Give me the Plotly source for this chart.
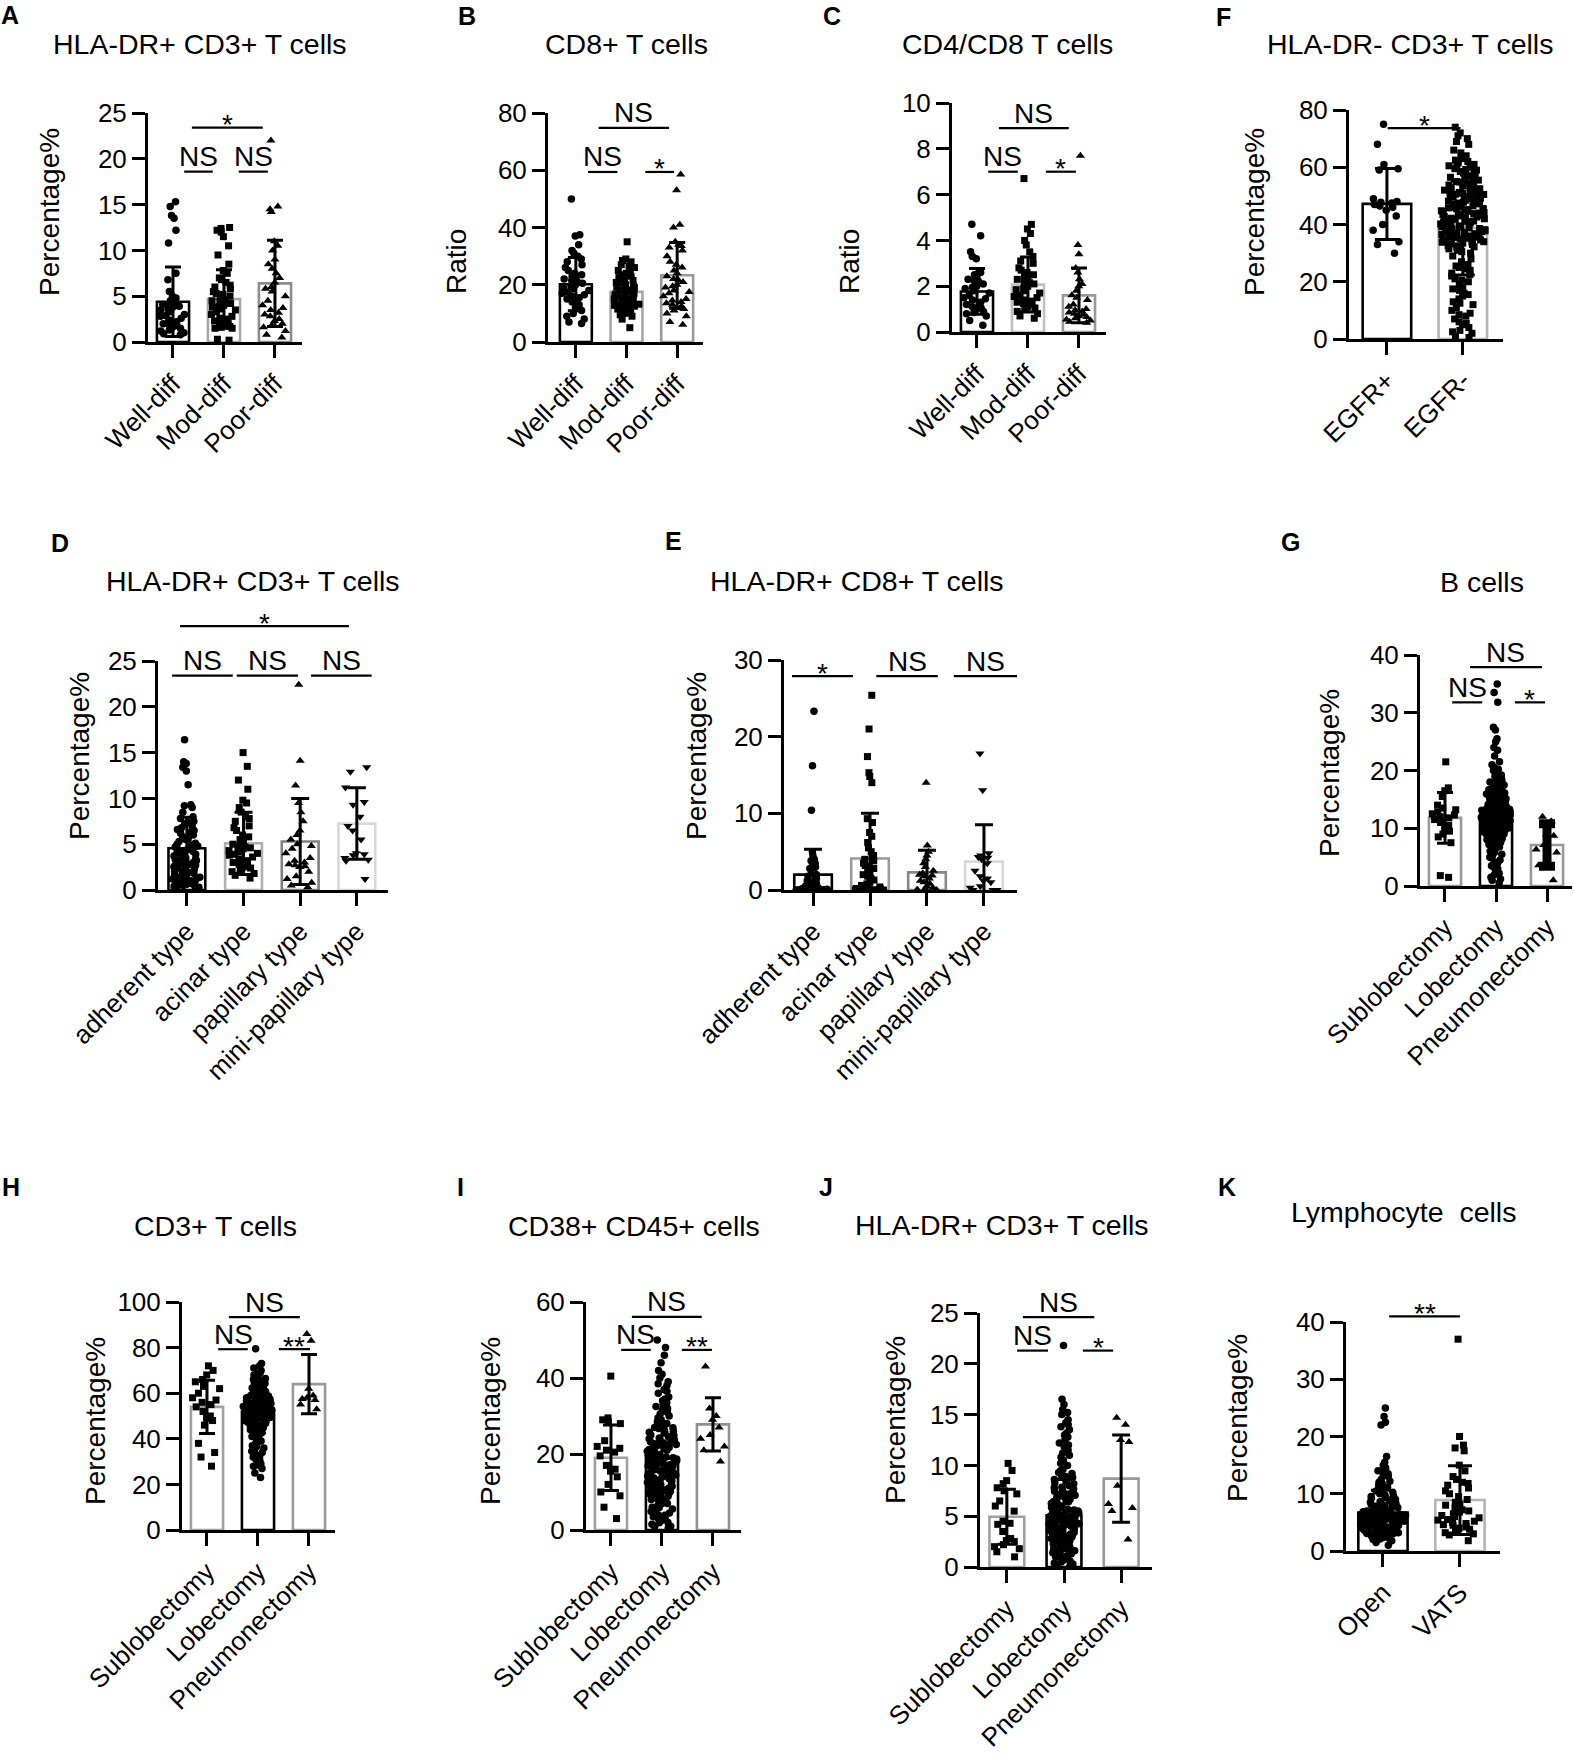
import plotly.graph_objects as go

W, H = 1574, 1758
FONT = "Liberation Sans, Arial, Helvetica, sans-serif"

# ---------------- data ----------------
DIFF_CATS = ["Well-diff", "Mod-diff", "Poor-diff"]
TYPE_CATS = ["adherent type", "acinar type", "papillary type", "mini-papillary type"]
SURG_CATS = ["Sublobectomy", "Lobectomy", "Pneumonectomy"]
EGFR_CATS = ["EGFR+", "EGFR-"]
APPR_CATS = ["Open", "VATS"]

# A  HLA-DR+ CD3+ T cells by differentiation
A_mean = [4.4, 4.7, 6.4]
A_sd = [3.8, 3.2, 4.7]
A_well = [15.3, 14.8, 13.8, 13.5, 12.2, 10.8, 7.5, 6.8, 5.5, 5.0, 4.8, 4.5, 4.2, 4.0, 4.0, 3.8, 3.5,
          3.3, 3.0, 2.8, 2.6, 2.4, 2.2, 2.0, 1.8, 1.6, 1.5, 1.3, 1.2, 1.0, 0.9, 0.8, 3.9, 4.1, 3.6, 2.9, 1.9]
A_mod = [12.5, 12.4, 12.2, 12.0, 11.5, 10.5, 9.5, 8.5, 7.8, 7.5, 7.0, 6.5, 6.2, 6.0, 5.8, 5.5, 5.2, 5.0,
         4.8, 4.6, 4.5, 4.3, 4.2, 4.0, 3.8, 3.6, 3.5, 3.3, 3.0, 2.8, 2.6, 2.5, 2.2, 2.0, 1.8, 1.7, 1.6,
         1.5, 1.5, 0.3, 0.2, 4.4, 5.3, 3.9, 6.8, 2.3]
A_poor = [22.0, 14.8, 14.5, 14.2, 11.0, 10.5, 10.0, 9.0, 8.5, 8.0, 7.5, 7.0, 6.5, 6.0, 5.5, 5.0, 4.5,
          4.0, 3.5, 3.2, 3.0, 2.8, 2.5, 2.0, 1.8, 1.6, 1.2, 0.8, 0.5, 2.3, 3.7, 5.8]

# B  CD8+ T cells
B_mean = [20.2, 17.5, 23.3]
B_sd = [9.3, 5.5, 11.5]
B_well = [50, 37.5, 37, 34, 32, 31, 30, 29, 28, 27, 26, 25, 24, 23, 22.5, 22, 21, 20.5, 20, 19.5, 19,
          18, 17.5, 17, 16, 15.5, 15, 14, 13, 12, 11, 10, 9, 8, 7, 6.5, 21.5, 18.5, 16.5, 23.5]
B_mod = [35, 29, 28.5, 28, 27, 26.5, 26, 25, 24.5, 24, 23.5, 23, 22, 21.5, 21, 20.5, 20, 19.5, 19,
         18.5, 18, 17.5, 17, 16.5, 16, 15.5, 15, 15, 14.5, 14, 14, 13.5, 13, 12.5, 12, 11.5, 11, 10.5,
         10, 9.5, 9, 8, 5, 14.8, 15.2, 16.2, 13.2, 19.2, 22.5, 12.8, 13.8, 14.2, 15.8, 16.8, 17.8,
         18.2, 20.8, 11.2, 12.2, 10.2]
B_poor = [58.5, 53, 41, 40, 35, 34, 33.5, 33, 32, 30, 28, 27, 26, 25, 24, 23, 22, 21, 20, 19.5, 19,
          18, 17, 16, 15, 14.5, 14, 13.5, 13, 12.5, 12, 11.5, 11, 10, 9, 7, 6, 21.5, 17.5]

# C  CD4/CD8 T cells
C_mean = [1.77, 2.07, 1.6]
C_sd = [1.0, 1.2, 1.2]
C_well = [4.7, 4.2, 3.5, 3.3, 3.2, 2.6, 2.5, 2.4, 2.3, 2.2, 2.1, 2.0, 1.9, 1.8, 1.7, 1.6, 1.5, 1.4,
          1.3, 1.2, 1.1, 1.0, 0.9, 0.8, 0.7, 0.5, 0.3, 1.95, 1.45, 2.25, 0.85, 1.05]
C_mod = [6.7, 4.7, 4.5, 4.3, 4.0, 3.8, 3.5, 3.3, 3.1, 3.0, 2.8, 2.7, 2.6, 2.5, 2.4, 2.3, 2.2, 2.1,
         2.0, 1.9, 1.8, 1.7, 1.6, 1.5, 1.4, 1.35, 1.3, 1.2, 1.1, 1.0, 0.9, 0.8, 0.7, 0.6, 2.15, 1.85,
         1.55, 1.25, 2.45, 1.05]
C_poor = [7.7, 3.8, 3.4, 2.8, 2.6, 2.3, 2.1, 2.0, 1.8, 1.6, 1.5, 1.4, 1.2, 1.0, 0.9, 0.85, 0.8,
          0.75, 0.7, 0.65, 0.6, 0.55, 0.5, 0.45, 0.4, 1.1, 0.95]

# F  HLA-DR- CD3+ T cells by EGFR status
F_mean = [47.2, 38.8]
F_sd = [12.4, 16.4]
F_pos = [75, 68, 61, 59.5, 59, 49, 48, 47.5, 47, 46.5, 45, 43, 40, 38, 34, 33, 30, 47.8, 46]
F_neg = [74, 72, 71, 70, 69, 68, 66, 65, 64, 63, 62, 61, 60.5, 60, 59.5, 59, 58.5, 58, 57, 56, 55.5,
         55, 54.5, 54, 53.5, 53, 52.5, 52, 51.5, 51, 50.5, 50, 49.5, 49, 48.5, 48, 47.5, 47, 46.5,
         46, 45.5, 45, 44.5, 44, 43.5, 43, 42.5, 42, 41.5, 41, 40.5, 40, 39.5, 39, 38.5, 38, 37.5,
         37, 36.5, 36, 35.5, 35, 34.5, 34, 33.5, 33, 32.5, 32, 31, 30, 29, 28, 27, 26, 25, 24, 23,
         22, 21, 20, 19, 18, 17, 16, 15, 14, 13, 12, 11, 10, 9, 8, 7, 6, 5, 4, 3, 2, 1, 0.5, 45.2,
         44.2, 43.2, 42.2, 41.2, 40.2, 39.2, 46.2, 47.2, 48.2, 38.2, 37.2, 36.2, 35.2, 34.2, 33.2,
         49.2, 50.2, 51.2, 52.2]
F_neg_more = [30.5, 31.5, 32.2, 33.8, 34.8, 35.8, 36.8, 37.8, 38.8, 39.8, 40.8, 41.8, 42.8, 43.8,
              44.8, 45.8, 46.8, 47.8, 48.8, 49.8, 50.8, 51.8, 52.8, 53.8, 54.8, 55.8, 56.5, 57.5,
              58.2, 59.2, 60.2, 61.5, 62.5, 40.6, 41.6, 42.6, 43.6, 44.6, 45.6, 46.6, 39.6, 38.6,
              37.6, 36.6, 35.6, 34.6, 33.6, 32.6, 47.6, 48.6, 49.6, 50.6, 25.5, 24.5, 22.5, 20.5,
              17.5, 15.5, 12.5, 8.5, 5.5, 2.5]

# D  HLA-DR+ CD3+ T cells by histologic type
D_mean = [4.55, 5.1, 5.3, 7.25]
D_sd = [3.4, 3.4, 4.7, 3.9]
D_adh = [16.4, 14.0, 13.8, 13.4, 13.0, 11.5, 9.3, 9.2, 9.0, 8.5, 8.0, 7.8, 7.5, 7.2, 7.0, 6.8, 6.5,
         6.2, 6.0, 5.8, 5.5, 5.3, 5.0, 4.8, 4.7, 4.5, 4.3, 4.2, 4.0, 3.9, 3.8, 3.6, 3.5, 3.4, 3.2, 3.0,
         2.9, 2.8, 2.6, 2.5, 2.4, 2.2, 2.1, 2.0, 1.9, 1.8, 1.7, 1.6, 1.5, 1.4, 1.2, 1.0, 0.9, 0.8,
         0.6, 0.5, 0.4, 0.3, 0.2, 4.1, 3.3, 2.7, 1.95, 5.1, 6.3, 0.5, 0.7, 1.1, 1.3, 1.6, 2.3, 2.6,
         3.1, 3.7, 4.4, 4.9, 5.6, 6.6, 7.4, 1.0, 2.0, 3.0, 0.3]
D_aci = [15.0, 13.5, 12.0, 11.0, 9.8, 9.5, 9.0, 8.5, 8.0, 7.8, 7.5, 7.0, 6.8, 6.5, 6.0, 5.8, 5.5,
         5.2, 5.0, 4.8, 4.6, 4.5, 4.4, 4.2, 4.0, 3.8, 3.6, 3.4, 3.2, 3.0, 2.8, 2.6, 2.4, 2.2, 2.0,
         1.8, 1.6, 1.3, 4.3, 3.9, 2.5, 4.7]
D_pap = [22.4, 14.1, 11.4, 9.5, 8.5, 7.5, 6.5, 6.0, 5.5, 5.0, 4.8, 4.5, 4.0, 3.5, 3.0, 2.8, 2.7,
         2.6, 2.5, 2.0, 1.5, 1.2, 0.8, 0.5, 0.3, 3.2]
D_mini = [13.4, 12.9, 11.2, 9.6, 9.3, 8.0, 7.0, 6.5, 5.5, 4.0, 3.9, 3.8, 3.5, 3.3, 3.2, 1.2]

# E  HLA-DR+ CD8+ T cells by histologic type
E_mean = [2.0, 4.1, 2.3, 3.7]
E_sd = [3.3, 5.9, 2.9, 4.8]
E_adh = [23.3, 16.2, 10.4, 5.0, 4.5, 4.0, 3.8, 3.5, 3.2, 3.0, 2.8, 2.5, 2.2, 2.0, 1.8, 1.5, 1.2,
         1.0, 0.8, 0.6, 0.5, 0.4, 0.3, 0.2, 0.1, 0, 0, 0, 0, 0, 0, 0, 0, 0, 0, 0, 0, 0, 0, 0, 0.1,
         0.2, 0.3, 0.5, 0.7, 1.1]
E_aci = [25.4, 21.0, 17.4, 15.3, 14.8, 14.0, 9.3, 8.8, 7.5, 7.0, 6.2, 5.5, 5.0, 4.5, 4.0, 3.8, 3.5,
         3.2, 3.0, 2.8, 2.5, 2.2, 2.0, 1.8, 1.5, 1.3, 1.0, 0.8, 0.6, 0.5, 0.4, 0.3, 0.2, 0, 0, 0, 0,
         0, 0, 0, 0, 0, 0, 0, 0.1, 0.15]
E_pap = [14.0, 5.8, 5.0, 4.5, 4.0, 3.5, 3.0, 2.5, 2.2, 2.0, 1.9, 1.8, 1.5, 1.2, 1.0, 0.8, 0.5, 0.3,
         0, 0, 0, 0, 0]
E_mini = [17.8, 13.0, 4.8, 4.5, 4.3, 4.2, 4.0, 3.5, 2.5, 1.8, 1.5, 1.2, 1.0, 0.5, 0.3, 0, 0, 0]

# G  B cells by surgery
G_mean = [11.8, 12.2, 7.1]
G_sd = [4.4, 4.8, 3.7]
G_sub = [21.5, 17.0, 16.5, 15.5, 14.0, 13.5, 13.2, 12.8, 12.5, 12.3, 12.0, 11.8, 11.5, 11.0, 10.5,
         10.0, 9.5, 9.0, 8.5, 7.5, 1.8, 1.5]
G_lob = [35.0, 33.5, 31.8, 27.5, 27.0, 25.5, 25.0, 24.0, 23.5, 22.5, 21.5, 21.0, 20.5, 20.0, 19.5,
         19.0, 18.8, 18.5, 18.2, 18.0, 17.8, 17.5, 17.2, 17.0, 16.8, 16.5, 16.2, 16.0, 15.8, 15.5,
         15.3, 15.0, 14.8, 14.6, 14.4, 14.2, 14.0, 13.8, 13.6, 13.4, 13.2, 13.0, 12.8, 12.6, 12.4,
         12.2, 12.0, 11.8, 11.6, 11.4, 11.2, 11.0, 10.8, 10.6, 10.4, 10.2, 10.0, 9.8, 9.6, 9.4, 9.2,
         9.0, 8.8, 8.5, 8.2, 8.0, 7.8, 7.5, 7.2, 7.0, 6.5, 6.0, 5.5, 5.0, 4.5, 4.0, 3.5, 3.0, 2.5,
         2.0, 1.5, 1.0, 0.5, 12.1, 12.3, 12.5, 11.9, 11.7, 13.1, 13.3, 10.9, 10.7, 14.1, 14.3, 9.9,
         9.7, 15.1, 8.9, 16.1, 12.7, 11.3, 13.7, 10.3]
G_lob_more = [7.1, 7.3, 7.6, 7.9, 8.1, 8.3, 8.6, 8.7, 9.05, 9.15, 9.3, 9.45, 9.55, 9.75, 9.85, 10.05,
              10.15, 10.35, 10.45, 10.55, 10.65, 10.75, 10.85, 11.05, 11.15, 11.25, 11.35, 11.45,
              11.55, 11.65, 11.75, 11.85, 11.95, 12.05, 12.15, 12.25, 12.35, 12.45, 12.55, 12.65,
              12.75, 12.85, 12.95, 13.05, 13.15, 13.25, 13.35, 13.45, 13.55, 13.65, 13.75, 13.85,
              13.95, 14.45, 14.55, 14.75, 14.95, 15.25, 15.45, 15.65, 15.95, 16.35, 16.65, 17.1,
              17.6, 18.3, 19.2, 20.2, 3.2, 4.2, 5.2, 5.8, 6.2, 6.8, 2.2, 1.2]
G_pneu = [12.0, 11.2, 8.9, 8.7, 7.1, 6.3, 5.8, 3.6, 1.0]

# H  CD3+ T cells by surgery
H_mean = [54.0, 52.0, 64.0]
H_sd = [11.7, 9.5, 13.0]
H_sub = [72, 70, 68, 66, 65, 63, 62, 60, 58, 57, 56, 55, 54, 52, 50, 49, 48, 46, 38, 34, 32, 28]
H_lob = [79.5, 73, 72, 71, 70, 69, 68, 67, 66, 65.5, 65, 64.5, 64, 63, 62.5, 62, 61.5, 61, 60.5, 60,
         59.5, 59, 58.5, 58, 57.5, 57, 56.5, 56, 55.5, 55, 54.5, 54, 53.5, 53, 52.5, 52, 51.5, 51,
         50.5, 50, 49.5, 49, 48.5, 48, 47.5, 47, 46.5, 46, 45.5, 45, 44, 43, 42, 41, 40, 39, 38, 37,
         36, 35, 34, 33, 32, 31, 30, 29, 28, 27, 25, 23, 54.2, 53.2, 52.2, 51.2, 50.2, 55.2, 56.2,
         49.2, 48.2, 57.2, 58.2, 47.2, 53.8, 52.8, 51.8, 54.8]
H_lob_more = [40.5, 41.5, 42.5, 43.5, 44.5, 45.2, 45.8, 46.2, 46.8, 47.3, 47.8, 48.3, 48.8, 49.3, 49.8,
              50.3, 50.8, 51.3, 51.6, 52.3, 52.6, 53.3, 53.6, 54.3, 54.6, 55.3, 55.8, 56.3, 56.8,
              57.3, 57.8, 58.3, 58.8, 59.3, 59.8, 60.3, 60.8, 61.3, 62.3, 63.3, 64.3, 65.3, 66.5,
              67.5, 68.5, 50.7, 51.7, 52.7, 53.7, 54.7, 49.7, 48.7, 55.7, 56.7, 38.5, 36.5, 34.5,
              32.5, 30.5, 28.5]
H_pneu = [86, 83, 62, 59, 58, 57, 57.5, 55, 53]

# I  CD38+ CD45+ cells by surgery
I_mean = [19.0, 18.8, 27.8]
I_sd = [8.6, 9.0, 7.0]
I_sub = [40.5, 29.5, 29, 28.5, 28, 23.5, 22, 21.5, 21, 20.5, 19.5, 17, 15.5, 14, 12, 10, 9, 6, 3, 16]
I_lob = [50, 48, 46, 44, 42, 41, 40, 39, 38, 37, 36, 35, 34, 33, 32, 31, 30, 29, 28, 27.5, 27, 26.5,
         26, 25.5, 25, 24.5, 24, 23.5, 23, 22.5, 22, 21.5, 21, 20.5, 20, 19.5, 19, 18.5, 18, 17.5,
         17, 16.5, 16, 15.5, 15, 14.5, 14, 13.5, 13, 12.5, 12, 11.5, 11, 10.5, 10, 9.5, 9, 8.5, 8,
         7.5, 7, 6.5, 6, 5.5, 5, 4.5, 4, 3.5, 3, 2.5, 2, 1.5, 1, 0.5, 20.2, 19.2, 18.2, 17.2, 16.2,
         21.2, 22.2, 15.2, 14.2, 23.2, 13.2, 24.2, 12.2, 11.2, 10.2]
I_lob_more = [8.2, 9.2, 10.7, 11.7, 12.7, 13.7, 14.7, 15.7, 16.7, 17.7, 18.7, 19.7, 20.7, 21.7, 22.7,
              23.7, 24.7, 25.7, 26.7, 27.7, 28.5, 29.5, 30.5, 31.5, 32.5, 33.5, 34.5, 36.5, 38.5,
              12.9, 13.9, 14.9, 15.9, 16.9, 17.9, 18.9, 19.9, 20.9, 21.9, 22.9, 11.9, 10.9, 9.9, 8.9,
              7.9, 6.9, 5.9, 4.9, 3.9, 2.9, 1.9, 0.9, 24.9, 26.9]
I_pneu = [43, 32, 30, 29, 27, 25, 24, 22, 21, 18]

# J  HLA-DR+ CD3+ T cells by surgery
J_mean = [4.95, 5.1, 8.7]
J_sd = [2.7, 3.5, 4.3]
J_sub = [10.2, 9.5, 8.5, 8.2, 7.8, 7.5, 7.2, 6.5, 6.0, 5.5, 4.5, 4.3, 4.2, 3.5, 2.8, 2.6, 2.5, 2.2,
         2.0, 1.8, 1.5, 1.0]
J_lob = [21.8, 16.5, 16.0, 15.5, 15.0, 14.5, 14.0, 13.5, 13.0, 12.5, 12.0, 11.5, 11.0, 10.5, 10.0,
         9.5, 9.2, 9.0, 8.8, 8.5, 8.2, 8.0, 7.8, 7.5, 7.2, 7.0, 6.8, 6.5, 6.2, 6.0, 5.8, 5.6, 5.4,
         5.2, 5.0, 4.8, 4.6, 4.4, 4.2, 4.0, 3.8, 3.6, 3.4, 3.2, 3.0, 2.8, 2.6, 2.4, 2.2, 2.0, 1.8,
         1.6, 1.4, 1.2, 1.0, 0.8, 0.6, 0.4, 0.2, 0.1, 4.1, 4.3, 4.5, 3.9, 3.7, 5.1, 5.3, 3.5, 3.3,
         5.5, 2.9, 6.1, 2.5, 3.1, 4.7, 4.9, 2.1, 6.3, 7.1, 1.5]
J_lob_more = [1.1, 1.3, 1.7, 1.9, 2.3, 2.7, 3.05, 3.25, 3.45, 3.65, 3.85, 4.05, 4.25, 4.45, 4.65, 4.85,
              5.05, 5.25, 5.45, 5.65, 5.85, 6.05, 6.25, 6.45, 6.65, 6.85, 7.05, 7.25, 7.45, 7.65,
              7.85, 8.05, 8.3, 8.6, 8.9, 9.3, 9.6, 10.2, 10.8, 11.2, 11.8, 12.2, 12.8, 13.2, 13.8,
              14.2, 15.2, 0.3, 0.5, 0.7, 0.9, 2.0, 2.4, 3.0, 3.6, 4.0, 4.4, 5.0, 5.6, 6.4]
J_pneu = [14.7, 14.0, 12.5, 12.3, 8.0, 6.2, 5.8, 5.5, 2.7]

# K  Lymphocyte cells by surgical approach
K_mean = [6.7, 8.9]
K_sd = [3.9, 6.0]
K_open = [25, 23.5, 22.5, 22, 16.5, 15.5, 15, 14.5, 14, 13.5, 13, 12.5, 12, 11.5, 11, 10.5, 10, 9.8,
          9.5, 9.2, 9, 8.8, 8.5, 8.2, 8, 7.8, 7.5, 7.2, 7, 6.8, 6.6, 6.4, 6.2, 6, 5.8, 5.6, 5.4, 5.2,
          5, 4.8, 4.6, 4.4, 4.2, 4, 3.8, 3.6, 3.4, 3.2, 3, 2.8, 2.6, 2.4, 2.2, 2, 1, 5.1, 5.3, 5.5,
          4.9, 4.7, 6.1, 6.3, 4.5, 4.3, 6.5, 3.9, 7.1, 3.5, 5.7, 5.9, 4.1, 6.9, 7.3, 3.7, 8.1, 5.05,
          5.25, 4.85, 6.05, 4.65]
K_open_more = [3.05, 3.15, 3.3, 3.45, 3.55, 3.65, 3.75, 3.85, 3.95, 4.05, 4.15, 4.25, 4.35, 4.45,
               4.55, 4.75, 4.95, 5.15, 5.35, 5.45, 5.65, 5.75, 5.85, 5.95, 6.15, 6.25, 6.35, 6.45,
               6.55, 6.65, 6.75, 6.85, 6.95, 7.4, 7.6, 7.9, 8.3, 8.6, 8.9, 9.3, 9.6, 10.2, 10.8, 11.2,
               11.8, 12.2, 13.2, 14.2, 2.5, 2.7, 2.3, 2.1, 1.8, 1.5]
K_vats = [37, 20, 18.5, 18, 17.5, 15, 14, 13, 12.5, 12, 11.8, 11.5, 10, 9.5, 9, 8.5, 8, 7.5, 7, 6.5,
          6.2, 6, 5.8, 5.5, 5.2, 5, 4.8, 4.5, 4.2, 4, 3.8, 3.5, 3.2, 3, 2.8, 1.8, 6.8, 10.5, 11, 5.4,
          4.6, 7.2, 8.2]

# ---------------- layout specs (pixel geometry, styles) ----------------
G1, G2, G3, G4 = "#a8a8a8", "#8c8c8c", "#c0c0c0", "#d8d8d8"
PCT, RAT = "Percentage%", "Ratio"
C3 = ["circle", "square", "triangle-up"]
C4 = ["circle", "square", "triangle-up", "triangle-down"]
S3 = ["square", "circle", "triangle-up"]

panels = [
    dict(letter="A", title="HLA-DR+ CD3+ T cells", ytitle=PCT, cats=DIFF_CATS, mean=A_mean, sd=A_sd,
         pts=[A_well, A_mod, A_poor], sym=C3, edge=["black", G1, G2],
         box=(148, 302, 113, 342), xr=(-0.49, 2.53), yr=(0, 25), dtick=5,
         lxy=(10, 15), txy=(200, 44), yxy=(50, 212), bw=0.63, cap=8,
         sig=[(0.37, 1.76, 23.4, "*"), (0.22, 0.78, 18.6, "NS"), (1.29, 1.86, 18.6, "NS")]),
    dict(letter="B", title="CD8+ T cells", ytitle=RAT, cats=DIFF_CATS, mean=B_mean, sd=B_sd,
         pts=[B_well, B_mod, B_poor], sym=C3, edge=["black", G1, "#999999"],
         box=(548, 703, 113, 342), xr=(-0.55, 2.51), yr=(0, 80), dtick=20,
         lxy=(467, 16), txy=(626, 44), yxy=(457, 262), bw=0.63, cap=8,
         sig=[(0.45, 1.84, 74.8, "NS"), (0.24, 0.82, 59.4, "NS"), (1.37, 1.94, 59.4, "*")]),
    dict(letter="C", title="CD4/CD8 T cells", ytitle=RAT, cats=DIFF_CATS, mean=C_mean, sd=C_sd,
         pts=[C_well, C_mod, C_poor], sym=C3, edge=["black", G3, "#999999"],
         box=(952, 1106, 103, 332), xr=(-0.49, 2.53), yr=(0, 10), dtick=2,
         lxy=(832, 16), txy=(1007, 44), yxy=(850, 262), bw=0.63, cap=8,
         sig=[(0.43, 1.80, 8.9, "NS"), (0.22, 0.80, 7.0, "NS"), (1.35, 1.94, 7.0, "*")]),
    dict(letter="F", title="HLA-DR- CD3+ T cells", ytitle=PCT, cats=EGFR_CATS, mean=F_mean, sd=F_sd,
         pts=[F_pos, F_neg + F_neg_more], sym=["circle", "square"], edge=["black", "#b4b4b4"],
         box=(1349, 1503, 110, 339), xr=(-0.5, 1.53), yr=(0, 80), dtick=20,
         lxy=(1223, 17), txy=(1410, 44), yxy=(1255, 212), bw=0.64, cap=12,
         sig=[(0.01, 0.97, 73.7, "*")]),
    dict(letter="D", title="HLA-DR+ CD3+ T cells", ytitle=PCT, cats=TYPE_CATS, mean=D_mean, sd=D_sd,
         pts=[D_adh, D_aci, D_pap, D_mini], sym=C4, edge=["black", "#b0b0b0", "#808080", G4],
         box=(158, 388, 661, 890), xr=(-0.51, 3.55), yr=(0, 25), dtick=5,
         lxy=(60, 543), txy=(253, 581), yxy=(80, 756), bw=0.65, cap=9,
         sig=[(-0.12, 2.86, 28.8, "*"), (-0.26, 0.81, 23.4, "NS"), (0.88, 1.96, 23.4, "NS"),
              (2.19, 3.26, 23.4, "NS")]),
    dict(letter="E", title="HLA-DR+ CD8+ T cells", ytitle=PCT, cats=TYPE_CATS, mean=E_mean, sd=E_sd,
         pts=[E_adh, E_aci, E_pap, E_mini], sym=C4, edge=["black", "#999999", "#888888", G4],
         box=(784, 1017, 660, 890), xr=(-0.51, 3.58), yr=(0, 30), dtick=10,
         lxy=(673, 541), txy=(857, 581), yxy=(697, 756), bw=0.66, cap=9,
         sig=[(-0.37, 0.70, 27.9, "*"), (1.11, 2.19, 27.9, "NS"), (2.47, 3.58, 27.9, "NS")]),
    dict(letter="G", title="B cells", ytitle=PCT, cats=SURG_CATS, mean=G_mean, sd=G_sd,
         pts=[G_sub, G_lob + G_lob_more, G_pneu], sym=S3, edge=["#999999", "black", "#999999"],
         box=(1420, 1572, 655, 886), xr=(-0.49, 2.49), yr=(0, 40), dtick=10,
         lxy=(1290, 542), txy=(1482, 582), yxy=(1330, 773), bw=0.63, cap=8, thick=[3, 3, 9],
         sig=[(0.49, 1.90, 37.9, "NS"), (0.14, 0.73, 31.8, "NS"), (1.37, 1.96, 31.8, "*")]),
    dict(letter="H", title="CD3+ T cells", ytitle=PCT, cats=SURG_CATS, mean=H_mean, sd=H_sd,
         pts=[H_sub, H_lob + H_lob_more, H_pneu], sym=S3, edge=["#a0a0a0", "black", "#999999"],
         box=(182, 335, 1302, 1530), xr=(-0.49, 2.51), yr=(0, 100), dtick=20,
         lxy=(11, 1187), txy=(215, 1226), yxy=(95, 1421), bw=0.63, cap=8,
         sig=[(0.43, 1.82, 93.4, "NS"), (0.22, 0.80, 79.3, "NS"), (1.41, 2.02, 79.3, "**")]),
    dict(letter="I", title="CD38+ CD45+ cells", ytitle=PCT, cats=SURG_CATS, mean=I_mean, sd=I_sd,
         pts=[I_sub, I_lob + I_lob_more, I_pneu], sym=S3, edge=["#a0a0a0", "black", "#909090"],
         box=(586, 741, 1302, 1530), xr=(-0.49, 2.55), yr=(0, 60), dtick=20,
         lxy=(461, 1187), txy=(634, 1226), yxy=(490, 1421), bw=0.63, cap=8,
         sig=[(0.41, 1.78, 56.1, "NS"), (0.20, 0.78, 47.4, "NS"), (1.39, 1.98, 47.4, "**")]),
    dict(letter="J", title="HLA-DR+ CD3+ T cells", ytitle=PCT, cats=SURG_CATS, mean=J_mean, sd=J_sd,
         pts=[J_sub, J_lob + J_lob_more, J_pneu], sym=S3, edge=["#a0a0a0", "black", "#999999"],
         box=(980, 1152, 1313, 1567), xr=(-0.47, 2.54), yr=(0, 25), dtick=5,
         lxy=(826, 1187), txy=(1002, 1225), yxy=(895, 1420), bw=0.61, cap=9,
         sig=[(0.28, 1.53, 24.6, "NS"), (0.18, 0.72, 21.3, "NS"), (1.33, 1.86, 21.3, "*")]),
    dict(letter="K", title="Lymphocyte  cells", ytitle=PCT, cats=APPR_CATS, mean=K_mean, sd=K_sd,
         pts=[K_open + K_open_more, K_vats], sym=["circle", "square"], edge=["black", "#b4b4b4"],
         box=(1346, 1500, 1322, 1551), xr=(-0.48, 1.52), yr=(0, 40), dtick=10,
         lxy=(1227, 1187), txy=(1403, 1212), yxy=(1237, 1418), bw=0.64, cap=12,
         sig=[(0.08, 1.0, 41.0, "**")]),
]

MSIZE = {"circle": 7.5, "square": 7, "triangle-up": 8, "triangle-down": 8}
TICKFONT = dict(family=FONT, size=26, color="black")

fig = go.Figure()
layout = dict(width=W, height=H, autosize=False,
              margin=dict(l=0, r=0, t=0, b=0, pad=0, autoexpand=False), showlegend=False,
              paper_bgcolor="white", plot_bgcolor="rgba(0,0,0,0)", font=dict(family=FONT, color="black"),
              annotations=[], shapes=[])


def px_of(p, xv, yv):
    xl, xr_, yt, yb = p["box"]
    x0, x1 = p["xr"]
    y0, y1 = p["yr"]
    return (xl + (xv - x0) / (x1 - x0) * (xr_ - xl), yb - (yv - y0) / (y1 - y0) * (yb - yt))


def ann(x, y, text, size, **kw):
    d = dict(x=x / W, y=1 - y / H, xref="paper", yref="paper", text=text, showarrow=False,
             xanchor="center", yanchor="middle", font=dict(family=FONT, size=size, color="black"))
    d.update(kw)
    layout["annotations"].append(d)


for k, p in enumerate(panels, start=1):
    xs = "" if k == 1 else str(k)
    xa, ya = "x" + xs, "y" + xs
    n = len(p["cats"])
    idx = list(range(n))
    xl, xr_, yt, yb = p["box"]

    fig.add_trace(go.Bar(x=idx, y=p["mean"], width=p["bw"], xaxis=xa, yaxis=ya,
                         marker=dict(color="rgba(255,255,255,0)", line=dict(color=p["edge"], width=2.6)),
                         hoverinfo="skip"))
    for i, vals in enumerate(p["pts"]):
        sym = p["sym"][i]
        fig.add_trace(go.Box(y=vals, x0=i, width=p["bw"] * 0.92, boxpoints="all", jitter=1.0, pointpos=0,
                             line=dict(width=0, color="rgba(0,0,0,0)"), fillcolor="rgba(0,0,0,0)",
                             marker=dict(symbol=sym, size=MSIZE[sym], color="black", line=dict(width=0)),
                             xaxis=xa, yaxis=ya, hoverinfo="skip"))
    thick = p.get("thick", [3] * n)
    for i in idx:
        fig.add_trace(go.Scatter(x=[i], y=[p["mean"][i]], mode="markers", xaxis=xa, yaxis=ya,
                                 marker=dict(size=1, color="rgba(0,0,0,0)"),
                                 error_y=dict(type="data", array=[p["sd"][i]], symmetric=True, visible=True,
                                              color="black", thickness=thick[i], width=p["cap"]),
                                 hoverinfo="skip"))

    axcommon = dict(showline=True, linewidth=3, linecolor="black", showgrid=False, zeroline=False,
                    ticks="outside", ticklen=13, tickwidth=3, tickcolor="black", tickfont=TICKFONT,
                    fixedrange=True, automargin=False)
    layout["xaxis" + xs] = dict(domain=[xl / W, xr_ / W], range=list(p["xr"]), anchor=ya,
                                tickmode="array", tickvals=idx, ticktext=p["cats"], tickangle=-45,
                                **axcommon)
    layout["yaxis" + xs] = dict(domain=[1 - yb / H, 1 - yt / H], range=list(p["yr"]), anchor=xa,
                                tick0=0, dtick=p["dtick"], **axcommon)

    ann(*p["lxy"], "<b>" + p["letter"] + "</b>", 25)
    ann(*p["txy"], p["title"], 28.5)
    ann(*p["yxy"], p["ytitle"], 28, textangle=-90)

    for (s0, s1, sv, txt) in p["sig"]:
        x0p, yp = px_of(p, s0, sv)
        x1p, _ = px_of(p, s1, sv)
        layout["shapes"].append(dict(type="line", xref="paper", yref="paper", x0=x0p / W, x1=x1p / W,
                                     y0=1 - yp / H, y1=1 - yp / H, line=dict(color="black", width=2.2)))
        off = 15 if txt == "NS" else 3
        ann((x0p + x1p) / 2, yp - off, txt, 28)

fig.update_layout(**layout)
fig.write_html("out.html", config={"displayModeBar": False},
               post_script="document.body.style.margin='0';document.body.style.padding='0';")
